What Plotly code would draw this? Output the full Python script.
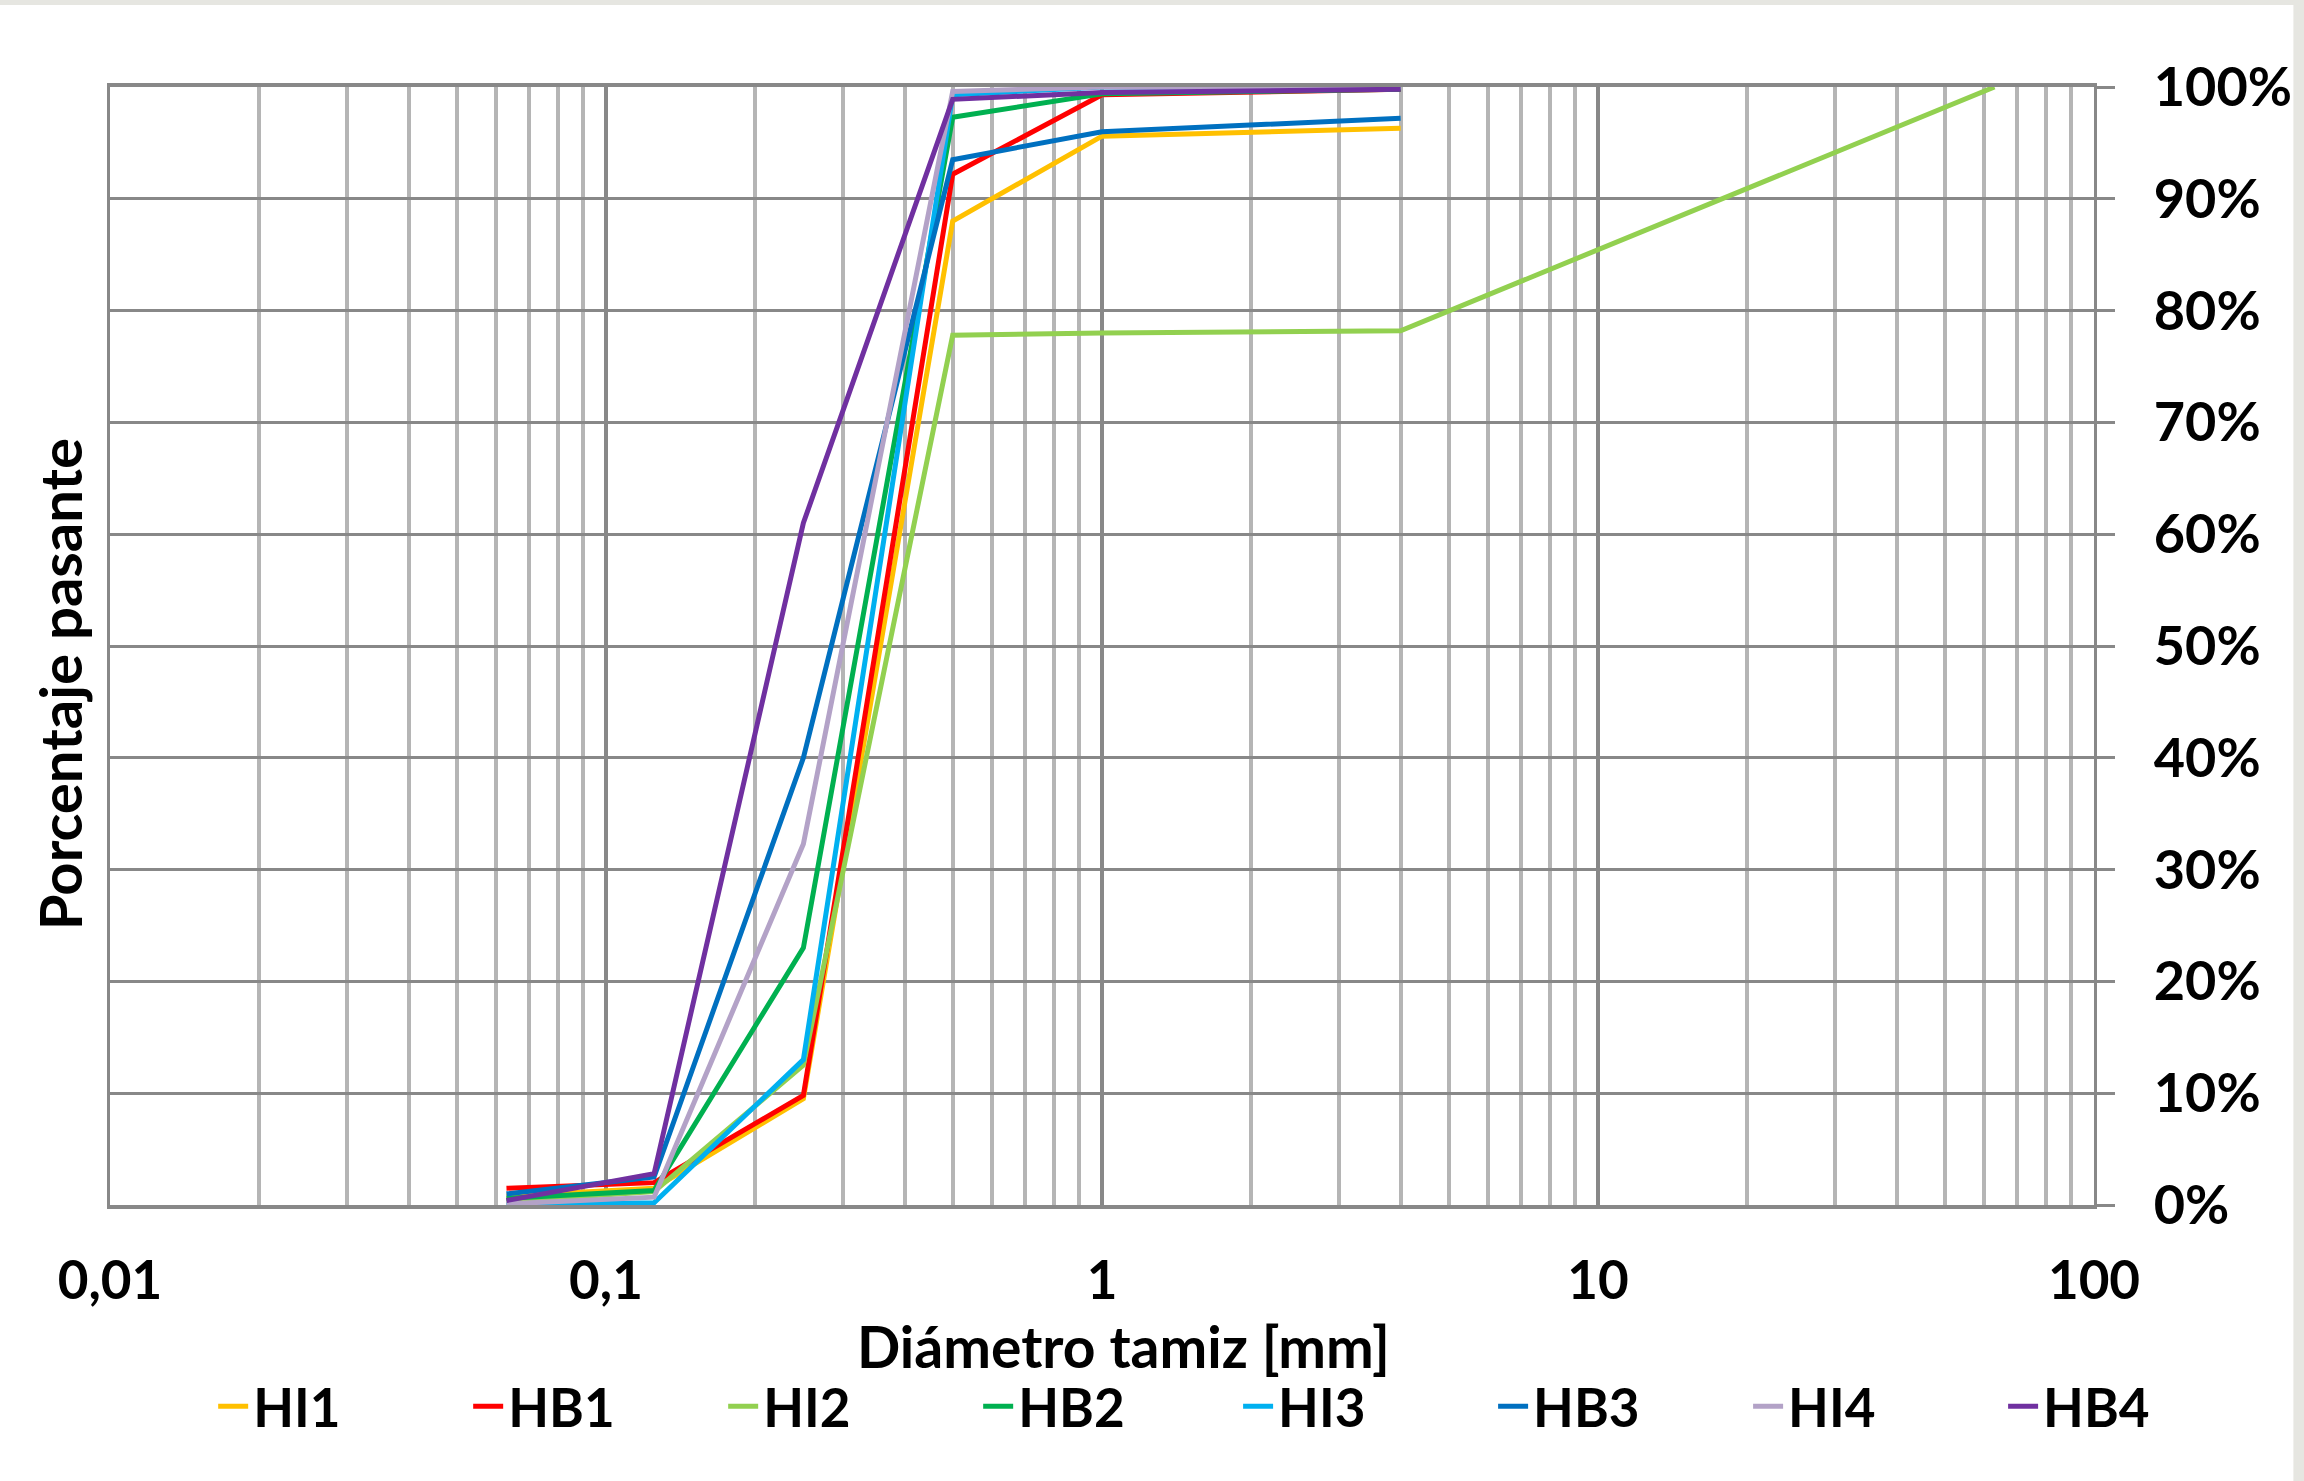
import plotly.graph_objects as go

# Sieve openings (mm)
sieves = [0.063, 0.125, 0.25, 0.5, 1, 4]
sieves_hi2 = [0.063, 0.125, 0.25, 0.5, 1, 4, 63]

# Cumulative percentage passing for each sample
hi1 = [0.8, 1.5, 9.5, 88.0, 95.6, 96.3]
hb1 = [1.5, 2.0, 9.8, 92.2, 99.3, 99.8]
hi2 = [0.3, 1.2, 12.5, 77.8, 78.0, 78.2, 100.0]
hb2 = [0.6, 1.3, 23.0, 97.3, 99.4, 99.8]
hi3 = [0.0, 0.2, 13.0, 99.3, 100.0, 100.0]
hb3 = [1.0, 2.5, 40.0, 93.5, 96.0, 97.2]
hi4 = [0.1, 0.7, 32.3, 99.6, 100.0, 100.0]
hb4 = [0.4, 2.8, 61.0, 98.9, 99.5, 99.8]

series_names = ["HI1", "HB1", "HI2", "HB2", "HI3", "HB3", "HI4", "HB4"]
series_x = [sieves, sieves, sieves_hi2, sieves, sieves, sieves, sieves, sieves]
series_y = [hi1, hb1, hi2, hb2, hi3, hb3, hi4, hb4]
series_colors = ["#FFC000", "#FF0000", "#92D050", "#00B050",
                 "#00B0F0", "#0070C0", "#B3A2C7", "#7030A0"]

x_tickvals = [0.01, 0.1, 1, 10, 100]
x_ticktext = ["0,01", "0,1", "1", "10", "100"]
y_tickvals = [0, 10, 20, 30, 40, 50, 60, 70, 80, 90, 100]
y_ticktext = ["0%", "10%", "20%", "30%", "40%", "50%",
              "60%", "70%", "80%", "90%", "100%"]

FONT = "Lato"
MAJOR = "#888888"
MINOR = "#b5b5b5"

fig = go.Figure()
for i, (name, xs, ys, col) in enumerate(zip(series_names, series_x, series_y, series_colors)):
    # the key is split over two legend boxes so it stays on one row
    fig.add_trace(go.Scatter(
        x=xs, y=ys, name=name, mode="lines",
        line=dict(color=col, width=5),
        legend="legend" if i < 4 else "legend2",
    ))

legend_style = dict(
    orientation="h",
    xanchor="left",
    y=-0.18, yanchor="middle",
    entrywidth=210,
    font=dict(family=FONT, size=53, color="black", weight="bold"),
    bgcolor="rgba(0,0,0,0)",
    itemwidth=30,
)

fig.update_layout(
    width=2304, height=1481,
    margin=dict(l=110, r=205, t=87, b=276),
    paper_bgcolor="white",
    plot_bgcolor="white",
    font=dict(family=FONT, size=54, color="black", weight="bold"),
    showlegend=True,
    legend=dict(x=0.052, **legend_style),
    legend2=dict(x=0.5686, **legend_style),
    xaxis=dict(
        type="log",
        range=[-2, 2],
        tickmode="array",
        tickvals=x_tickvals,
        ticktext=x_ticktext,
        ticks="",
        ticklabelstandoff=27,
        tickfont=dict(family=FONT, size=53, weight="bold"),
        showgrid=True, gridcolor=MAJOR, gridwidth=3.5,
        minor=dict(dtick="D1", showgrid=True, gridcolor=MINOR, gridwidth=3.5, ticks=""),
        showline=True, linecolor=MAJOR, linewidth=3.5, mirror=True,
        zeroline=False,
    ),
    yaxis=dict(
        side="right",
        range=[0, 100],
        tickmode="array",
        tickvals=y_tickvals,
        ticktext=y_ticktext,
        ticks="outside", ticklen=18, tickwidth=3, tickcolor=MAJOR,
        ticklabelstandoff=28,
        tickfont=dict(family=FONT, size=54, weight="bold"),
        showgrid=True, gridcolor=MAJOR, gridwidth=3,
        showline=True, linecolor=MAJOR, linewidth=3, mirror=True,
        zeroline=False,
    ),
    annotations=[
        dict(text="Diámetro tamiz [mm]", xref="paper", yref="paper",
             x=0.511, y=-0.126, xanchor="center", yanchor="middle",
             showarrow=False, font=dict(family=FONT, size=57, weight="bold")),
        dict(text="Porcentaje pasante", xref="paper", yref="paper",
             x=-0.0256, y=0.466, xanchor="center", yanchor="middle",
             textangle=-90, showarrow=False,
             font=dict(family=FONT, size=58, weight="bold")),
    ],
    shapes=[
        # thin light-grey frame along the top and right edges of the canvas
        dict(type="rect", xref="paper", yref="paper", layer="above",
             x0=-0.06, x1=1.11, y0=1.0733, y1=1.08,
             fillcolor="#e6e6e1", line=dict(width=0)),
        dict(type="rect", xref="paper", yref="paper", layer="above",
             x0=1.1005, x1=1.11, y0=-0.3, y1=1.08,
             fillcolor="#e6e6e1", line=dict(width=0)),
    ],
)

fig.write_html("out.html")
